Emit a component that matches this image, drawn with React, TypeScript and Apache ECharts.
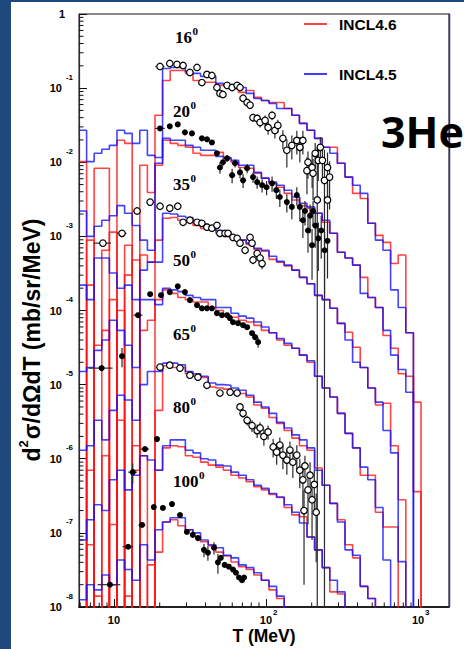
import React, { useEffect, useRef } from 'react';
import * as echarts from 'echarts';

// Bin edges of the model histograms (MeV), 20 bins per decade
const EDGES = [5.89, 6.61, 7.41, 8.32, 9.33, 10.47, 11.75, 13.18, 14.79, 16.6, 18.62, 20.89, 23.44, 26.3, 29.51, 33.11, 37.15, 41.69, 46.77, 52.48, 58.88, 66.07, 74.13, 83.18, 93.33, 104.7, 117.5, 131.8, 147.9, 166, 186.2, 208.9, 234.4, 263, 295.1, 331.1, 371.5, 416.9, 467.7, 524.8, 588.8, 660.7, 741.3, 831.8, 933.3, 1047, 1175];

// INCL4.6 (red) and INCL4.5 (blue) d2sigma/dOmega dT per bin, already multiplied by the angle's decade factor; 0 = empty bin
const INCL46_16 = [0.0102, 0, 0.0083, 0.0083, 0, 0.0198, 0.018, 0, 0.0091, 0.0039, 0.043, 0.127, 0.173, 0.173, 0.158, 0.127, 0.12, 0.12, 0.109, 0.109, 0.1, 0.0875, 0.093, 0.075, 0.068, 0.064, 0.064, 0.053, 0.043, 0.0335, 0.027, 0.021, 0.0159, 0.0159, 0.0097, 0.0063, 0.0038, 0.00325, 0.0015, 0.00103, 8.3e-4, 4.3e-4, 5.6e-4, 5.0e-5, 3.6e-7];
const INCL45_16 = [0.027, 0.0102, 0.0132, 0.015, 0.0169, 0.027, 0.0245, 0.018, 0.027, 0.0124, 0.0116, 0.184, 0.19, 0.19, 0.168, 0.158, 0.144, 0.144, 0.116, 0.109, 0.109, 0.102, 0.085, 0.0726, 0.068, 0.062, 0.053, 0.053, 0.043, 0.0335, 0.027, 0.021, 0.0159, 0.0132, 0.0097, 0.0063, 0.0049, 0.0038, 0.0015, 8.9e-4, 6.5e-4, 1.9e-4, 1.1e-4, 5.0e-5];
const INCL46_20 = [0, 8.9e-4, 0, 6.5e-4, 0.00114, 0, 7.6e-4, 0, 5.6e-4, 4.5e-4, 0.0091, 0.0198, 0.018, 0.0169, 0.0159, 0.0132, 0.0124, 0.0124, 0.0136, 0.0113, 0.01, 0.0085, 0.0083, 0.0071, 0.0061, 0.0052, 0.0046, 0.0038, 0.0031, 0.0026, 0.0024, 0.00205, 0.00155, 0.0011, 6.1e-4, 5.1e-4, 4.1e-4, 2.8e-4, 1.5e-4, 1.1e-4, 4.6e-5, 3.1e-5, 1.4e-5, 1.3e-5, 5.8e-6];
const INCL45_20 = [0.0022, 0.001, 0.00137, 0.00165, 0.0019, 0.0026, 0.00205, 0.0014, 8.9e-4, 6.5e-4, 0.0097, 0.021, 0.0198, 0.0198, 0.0169, 0.0159, 0.0145, 0.0145, 0.012, 0.0116, 0.0106, 0.0091, 0.0091, 0.0073, 0.0061, 0.0054, 0.0049, 0.0042, 0.0034, 0.0028, 0.0025, 0.00205, 0.00165, 0.0011, 6.1e-4, 5.1e-4, 4.1e-4, 1.7e-4, 1.5e-4, 1.1e-4, 5.4e-5, 2.5e-5, 1.6e-5, 7.9e-6];
const INCL46_35 = [0, 2.2e-4, 0, 0, 1.4e-4, 0, 3.0e-4, 4.8e-4, 0, 0, 8.9e-4, 0.00176, 0.0018, 0.00165, 0.00155, 0.0014, 0.00128, 0.00124, 0.0011, 0.001, 9.4e-4, 8.9e-4, 7.8e-4, 6.7e-4, 6.3e-4, 4.9e-4, 4.5e-4, 4.0e-4, 3.5e-4, 2.8e-4, 2.3e-4, 1.6e-4, 1.4e-4, 1.07e-4, 6.7e-5, 5.1e-5, 3.2e-5, 1.7e-5, 9.0e-6, 5.3e-6, 5.6e-6, 1.5e-6, 2.8e-7];
const INCL45_35 = [2.2e-4, 1.4e-4, 5.1e-4, 5.1e-4, 3.2e-4, 2.0e-4, 2.2e-4, 1.4e-4, 3.5e-4, 4.5e-4, 4.5e-4, 0.00205, 0.002, 0.00187, 0.0018, 0.00165, 0.00146, 0.00137, 0.0012, 0.00114, 0.001, 8.9e-4, 8.1e-4, 6.9e-4, 6.5e-4, 5.4e-4, 4.6e-4, 4.1e-4, 3.5e-4, 2.8e-4, 2.3e-4, 1.6e-4, 1.4e-4, 1.07e-4, 6.7e-5, 4.0e-5, 2.0e-5, 1.7e-5, 9.0e-6, 5.8e-6, 2.4e-6, 1.2e-6, 4.1e-8];
const INCL46_50 = [0, 0, 3.4e-5, 5.4e-5, 0, 1.0e-4, 0, 0, 5.4e-5, 7.4e-5, 1.4e-4, 1.9e-4, 1.7e-4, 1.5e-4, 1.4e-4, 1.3e-4, 1.3e-4, 1.1e-4, 1.0e-4, 8.6e-5, 8.1e-5, 7.4e-5, 7.0e-5, 6.3e-5, 5.4e-5, 5.0e-5, 4.0e-5, 3.4e-5, 3.1e-5, 2.5e-5, 2.0e-5, 1.3e-5, 9.0e-6, 6.8e-6, 4.1e-6, 2.2e-6, 1.4e-6, 6.0e-7, 6.0e-7, 1.9e-7, 1.2e-7, 1.2e-7];
const INCL45_50 = [1.5e-5, 1.7e-5, 2.9e-5, 4.0e-5, 7.4e-5, 5.4e-5, 3.4e-5, 1.7e-5, 1.4e-4, 1.4e-4, 1.2e-4, 2.0e-4, 1.9e-4, 1.8e-4, 1.6e-4, 1.5e-4, 1.4e-4, 1.4e-4, 1.1e-4, 1.1e-4, 9.2e-5, 8.4e-5, 7.9e-5, 7.0e-5, 6.0e-5, 5.0e-5, 4.2e-5, 3.6e-5, 3.1e-5, 2.5e-5, 2.1e-5, 1.3e-5, 9.0e-6, 6.8e-6, 4.1e-6, 2.2e-6, 1.4e-6, 7.7e-7, 5.2e-7, 2.2e-7, 4.3e-8];
const INCL46_65 = [0, 7.0e-7, 0, 1.1e-6, 0, 3.3e-6, 0, 1.5e-6, 0, 0, 4.5e-6, 1.8e-5, 1.7e-5, 1.7e-5, 1.4e-5, 1.3e-5, 1.25e-5, 9.3e-6, 9.0e-6, 8.7e-6, 7.9e-6, 7.6e-6, 6.8e-6, 5.3e-6, 4.8e-6, 3.6e-6, 3.0e-6, 2.4e-6, 1.9e-6, 1.5e-6, 1.3e-6, 7.5e-7, 4.4e-7, 2.5e-7, 1.5e-7, 6.9e-8, 4.6e-8, 1.9e-8, 1.3e-8];
const INCL45_65 = [1.3e-6, 1.5e-6, 3.3e-6, 1.8e-6, 4.5e-6, 7.2e-6, 6.2e-6, 3.3e-6, 1.0e-5, 1.5e-5, 1.5e-5, 1.95e-5, 1.95e-5, 1.85e-5, 1.5e-5, 1.4e-5, 1.3e-5, 1.05e-5, 1.0e-5, 9.8e-6, 9.0e-6, 8.4e-6, 7.2e-6, 5.8e-6, 5.0e-6, 4.1e-6, 3.1e-6, 2.6e-6, 2.1e-6, 1.8e-6, 1.4e-6, 7.0e-7, 4.4e-7, 2.5e-7, 1.4e-7, 5.9e-8, 5.0e-8, 1.9e-8, 1.3e-8];
const INCL46_80 = [0, 6.9e-8, 0, 0, 1.3e-7, 0, 0, 7.0e-7, 1.1e-6, 0, 7.0e-7, 1.4e-6, 1.5e-6, 1.45e-6, 1.1e-6, 1.05e-6, 9.0e-7, 8.2e-7, 7.7e-7, 7.0e-7, 6.0e-7, 5.5e-7, 4.9e-7, 4.2e-7, 3.8e-7, 3.3e-7, 3.0e-7, 2.2e-7, 1.75e-7, 1.65e-7, 8.8e-8, 5.9e-8, 3.4e-8, 1.6e-8, 1.5e-8];
const INCL45_80 = [8.0e-8, 1.5e-7, 2.4e-7, 2.0e-7, 5.2e-7, 7.0e-7, 3.8e-7, 6.0e-7, 1.1e-6, 9.6e-7, 7.0e-7, 1.5e-6, 1.8e-6, 1.8e-6, 1.3e-6, 1.2e-6, 1.0e-6, 9.6e-7, 8.2e-7, 8.0e-7, 6.6e-7, 6.0e-7, 5.2e-7, 4.4e-7, 4.0e-7, 3.4e-7, 3.05e-7, 2.4e-7, 1.9e-7, 1.36e-7, 8.8e-8, 5.9e-8, 3.4e-8, 2.3e-8, 1.6e-8];
const INCL46_100 = [0, 0, 1.4e-8, 0, 0, 0, 1.4e-8, 0, 0, 3.7e-8, 5.5e-8, 1.4e-7, 1.5e-7, 1.25e-7, 1.1e-7, 9.0e-8, 7.6e-8, 6.7e-8, 5.5e-8, 4.9e-8, 4.05e-8, 3.5e-8, 3.2e-8, 2.7e-8, 2.3e-8, 1.7e-8, 1.3e-8];
const INCL45_100 = [1.25e-8, 2.0e-8, 1.7e-8, 2.7e-8, 2.0e-8, 4.3e-8, 3.2e-8, 2.3e-8, 6.9e-8, 4.3e-8, 1.1e-7, 1.4e-7, 1.6e-7, 1.6e-7, 1.1e-7, 1.0e-7, 8.0e-8, 6.9e-8, 6.3e-8, 5.0e-8, 4.6e-8, 3.7e-8, 3.4e-8, 2.9e-8, 2.3e-8, 1.9e-8, 1.4e-8];

// Measured points: [T (MeV), value, value error, T error]
const EXP_16 = [[20.1, 0.196, 0, 1.4], [23.3, 0.215, 0, 0], [26.0, 0.209, 0, 0], [28.5, 0.202, 0, 0], [31.6, 0.163, 0, 0], [35.2, 0.19, 0, 0], [37.9, 0.119, 0.008, 0], [40.9, 0.153, 0, 0], [44.1, 0.148, 0, 0], [47.6, 0.102, 0.006, 0], [49.8, 0.085, 0.006, 0], [52.1, 0.082, 0.006, 0], [55.5, 0.109, 0, 0], [59.9, 0.102, 0, 0], [64.6, 0.109, 0, 0], [67.5, 0.102, 0, 0], [70.7, 0.073, 0.006, 0], [75.2, 0.064, 0.006, 0], [78.6, 0.059, 0.006, 0], [82.2, 0.040, 0.005, 0], [87.5, 0.039, 0.005, 0], [91.5, 0.0345, 0.005, 0], [98.7, 0.0367, 0.006, 0], [103.3, 0.0295, 0.006, 0], [109.7, 0.0429, 0.006, 0], [114.5, 0.0269, 0.006, 0], [119.8, 0.0314, 0.006, 0], [129.2, 0.021, 0.006, 0], [137.2, 0.0145, 0.006, 0], [148, 0.0169, 0.006, 0], [159.6, 0.0197, 0.007, 0], [167.1, 0.0159, 0.006, 0], [174.9, 0.0197, 0.007, 0], [186.1, 0.0077, 0.004, 0], [189, 0.01, 0.004, 0], [201.2, 0.0085, 0.004, 0], [204, 0.0071, 0.004, 0], [210.8, 0.0132, 0.005, 0], [217.5, 0.0031, 0.013, 0], [220.9, 0.0106, 0.005, 0], [227.9, 0.0159, 0.006, 0], [235.2, 0.0106, 0.005, 0], [242.6, 0.0057, 0.009, 0], [254.1, 0.0085, 0.005, 0], [254.1, 0.0031, 0.002, 0], [262.2, 0.0063, 0.004, 0]];
const EXP_20 = [[20.1, 0.0286, 0, 1.5], [23.3, 0.0305, 0, 0], [26.3, 0.0324, 0, 0], [29.3, 0.0253, 0, 0], [32.6, 0.0245, 0, 0], [37.9, 0.021, 0, 0], [40.9, 0.0204, 0, 0], [44.1, 0.0185, 0, 0], [47.6, 0.0132, 0.001, 0], [49.8, 0.0085, 0.0015, 0], [52.1, 0.01, 0.0012, 0], [55.5, 0.0113, 0.0012, 0], [59.9, 0.0067, 0.0015, 0], [62.6, 0.0097, 0.0012, 0], [67.5, 0.0073, 0.0012, 0], [70.7, 0.0057, 0.0012, 0], [75.2, 0.0083, 0.0012, 0], [82.2, 0.0063, 0.001, 0], [87.5, 0.0054, 0.001, 0], [94.3, 0.0049, 0.001, 0], [101, 0.0046, 0.001, 0], [109.7, 0.0052, 0.0012, 0], [117, 0.0042, 0.001, 0], [123.4, 0.0034, 0.0009, 0], [137.2, 0.0029, 0.0008, 0], [148, 0.0025, 0.0008, 0], [159.6, 0.0036, 0.001, 0], [167, 0.0025, 0.0009, 0], [175, 0.00165, 0.0007, 0], [180.5, 0.0022, 0.0008, 0], [189, 0.0012, 0.0006, 0], [195, 0.0019, 0.0008, 0], [201, 7.6e-4, 0.0005, 0], [204, 0.0022, 0.0008, 0], [211, 0.0014, 0.0007, 0], [221, 9.4e-4, 0.0006, 0], [231, 0.0012, 0.0007, 0], [243, 6.5e-4, 0.0005, 0], [254, 8.7e-4, 0.0006, 0]];
const EXP_35 = [[8.46, 8.1e-4, 0, 1.1], [11.3, 0.0011, 0, 0.8], [14.2, 0.0022, 0, 0.9], [17.3, 0.0029, 0, 0], [20.1, 0.00255, 0, 0], [23.3, 0.0024, 0, 0], [26.3, 0.00255, 0, 0], [28.5, 0.00155, 0, 0], [31.6, 0.00165, 0, 0], [35.2, 0.00155, 0, 0], [37.9, 0.0015, 0, 0], [40.9, 0.00133, 0, 0], [44.1, 0.00129, 0, 0], [47.6, 0.00141, 0, 0], [49.8, 0.0011, 0, 0], [53.8, 0.0011, 0, 0], [56.3, 0.0011, 0, 0], [60.7, 9.7e-4, 0, 0], [64.6, 9.4e-4, 0, 0], [67.5, 8.1e-4, 0, 0], [72.9, 6.5e-4, 6e-5, 0], [78.6, 9.7e-4, 0, 0], [81.0, 8.1e-4, 0, 0], [82.2, 4.8e-4, 6e-5, 0], [87.5, 5.9e-4, 7e-5, 0], [91.5, 5.1e-4, 7e-5, 0], [94.3, 4.3e-4, 7e-5, 0]];
const EXP_50 = [[8.3, 1.67e-5, 0, 1.5], [11.3, 2.42e-5, 7e-6, 0], [14.4, 8.65e-5, 0, 1.0], [17.3, 1.66e-4, 0, 0], [20.4, 1.61e-4, 0, 0], [23.3, 1.77e-4, 0, 0], [26.3, 2.12e-4, 0, 0], [29.3, 1.77e-4, 0, 0], [31.6, 1.38e-4, 0, 0], [35.2, 1.18e-4, 0, 0], [37.9, 1.07e-4, 0, 0], [40.9, 1.07e-4, 0, 0], [44.1, 1.07e-4, 0, 0], [47.6, 9.2e-5, 0, 0], [51.4, 8.65e-5, 0, 0], [55.5, 8.65e-5, 0, 0], [57.9, 7.9e-5, 0, 0], [60.7, 6.95e-5, 0, 0], [65.5, 6.74e-5, 0, 0], [70.7, 6.34e-5, 0, 0], [75.2, 5.96e-5, 0, 0], [81.0, 4.94e-5, 0, 0], [84.8, 4.37e-5, 4e-6, 0], [88.8, 3.74e-5, 6e-6, 0]];
const EXP_65 = [[20.1, 1.72e-5, 0, 1.2], [23.3, 1.83e-5, 0, 0], [27.2, 1.67e-5, 0, 0], [31.6, 1.34e-5, 0, 0], [35.7, 1.26e-5, 0, 0], [40.9, 9.8e-6, 0, 0], [49.8, 7.7e-6, 0, 0], [58.1, 7.9e-6, 0, 0], [64.6, 7.7e-6, 0, 0], [67.5, 5.0e-6, 6e-7, 0], [70.7, 4.1e-6, 5e-7, 0], [75.2, 3.3e-6, 5e-7, 0], [81.0, 2.8e-6, 5e-7, 0], [87.5, 2.4e-6, 5e-7, 0], [91.5, 2.6e-6, 5e-7, 0], [96.9, 2.0e-6, 5e-7, 0], [103.3, 2.3e-6, 5e-7, 0], [111.5, 1.44e-6, 4e-7, 0], [117.6, 1.23e-6, 4e-7, 0], [123.4, 1.53e-6, 4e-7, 0], [129.2, 1.12e-6, 4e-7, 0], [137.2, 9.6e-7, 3.5e-7, 0], [143.8, 1.31e-6, 4e-7, 0], [150.3, 9.0e-7, 3.5e-7, 0], [159.6, 1.12e-6, 4e-7, 0], [167, 7.0e-7, 3e-7, 0], [175, 5.2e-7, 3e-7, 0], [178, 2.0e-7, 1.8e-7, 0], [180.5, 8.0e-7, 3e-7, 0], [189, 3.8e-7, 2.5e-7, 0], [195, 6.0e-7, 3e-7, 0], [201, 2.8e-7, 2e-7, 0], [208, 4.5e-7, 2.5e-7, 0], [214, 1.9e-7, 1.5e-7, 0]];
const EXP_80 = [[13.3, 6.6e-7, 2e-7, 0.9], [16.0, 1.35e-6, 0, 1.0], [19.2, 1.84e-6, 0, 0]];
const EXP_100 = [[9.41, 2.0e-8, 0, 1.6], [12.4, 6.5e-8, 0, 1.0], [15.3, 1.28e-7, 0, 0.8], [18.3, 2.23e-7, 0, 0], [21.0, 2.17e-7, 0, 0], [24.1, 2.45e-7, 0, 0], [27.2, 1.74e-7, 0, 0], [30.2, 1.03e-7, 0, 0], [33.0, 9.4e-8, 0, 0], [35.7, 8.5e-8, 0, 0], [39.1, 5.9e-8, 1.2e-8, 0], [41.5, 5.4e-8, 1.2e-8, 0], [45.5, 6.3e-8, 1.2e-8, 0], [48.3, 4.0e-8, 1.2e-8, 0], [50.5, 4.6e-8, 0, 0], [53.5, 3.7e-8, 0, 0], [57, 3.5e-8, 0, 0], [60.7, 3.2e-8, 0, 0], [63.5, 2.9e-8, 0, 0], [66.5, 2.5e-8, 0, 0], [69.6, 2.3e-8, 0, 0], [71.8, 2.5e-8, 0, 0]];

const ANGLES = ['16', '20', '35', '50', '65', '80', '100'];
const X_TICK_EXPONENTS = [1, 2, 3];
const Y_TICK_EXPONENTS = [0, -1, -2, -3, -4, -5, -6, -7, -8];
const LEGEND = ['INCL4.6', 'INCL4.5'];

const X_MIN = 5.89, X_MAX = 1600, Y_MIN = 1e-8, Y_MAX = 1;
const FLOOR = 1e-9;
const RED = '#ff1010';
const BLUE = '#1010ff';
const SANS = '"Liberation Sans", Arial, Helvetica, sans-serif';
const SERIF = '"Liberation Serif", "Times New Roman", serif';

// layout of the angle annotations (left x, vertical centre of digits)
const ANGLE_LABEL_X = [175, 173, 173, 173, 173, 173, 173];
const ANGLE_LABEL_Y = [37.5, 111, 184, 260.5, 334, 407.5, 481.5];

function stepPoints(vals: number[]) {
  const pts: number[][] = [];
  for (let i = 0; i < EDGES.length - 1; i++) {
    const v = vals[i] > 0 ? vals[i] : FLOOR;
    pts.push([EDGES[i], v], [EDGES[i + 1], v]);
  }
  return pts;
}

function histSeries(name: string, vals: number[], color: string) {
  return {
    type: 'line', name, data: stepPoints(vals), symbol: 'none', showSymbol: false,
    lineStyle: { color, width: 1.6, opacity: 0.78 }, itemStyle: { color },
    clip: true, silent: true, z: 2,
  };
}

function errorSeries(data: number[][]) {
  return {
    type: 'custom', data, encode: { x: 0, y: 1 }, silent: true, z: 3, clip: true,
    renderItem: (_p: any, api: any) => {
      const t = api.value(0), v = api.value(1), dv = api.value(2), dt = api.value(3);
      const children: any[] = [];
      const st = { stroke: '#2a2a2a', lineWidth: 1.2 };
      if (dv > 0) {
        const lo = Math.max(v - dv, Y_MIN), hi = Math.min(v + dv, Y_MAX);
        const a = api.coord([t, lo]), b = api.coord([t, hi]);
        children.push({ type: 'line', shape: { x1: a[0], y1: a[1], x2: b[0], y2: b[1] }, style: st });
      }
      if (dt > 0) {
        const a = api.coord([t - dt, v]), b = api.coord([t + dt, v]);
        children.push({ type: 'line', shape: { x1: a[0], y1: a[1], x2: b[0], y2: b[1] }, style: st });
      }
      return { type: 'group', children };
    },
  };
}

function pointSeries(data: number[][], open: boolean) {
  return {
    type: 'scatter', data: data.map((d) => [d[0], d[1]]), symbol: 'circle',
    symbolSize: open ? 6.5 : 6, silent: true, z: 4,
    itemStyle: open ? { color: '#fff', borderColor: '#000', borderWidth: 1.2, opacity: 1 } : { color: '#000', opacity: 1 },
  };
}

function tickSeries(values: number[], axis: 'x' | 'y', len: number) {
  return {
    type: 'custom', silent: true, z: 5,
    data: values.map((v) => (axis === 'x' ? [v, Y_MIN] : [X_MIN, v])),
    encode: { x: 0, y: 1 },
    renderItem: (_p: any, api: any) => {
      const p = api.coord([api.value(0), api.value(1)]);
      const shape = axis === 'x'
        ? { x1: p[0], y1: p[1], x2: p[0], y2: p[1] - len }
        : { x1: p[0], y1: p[1], x2: p[0] + len, y2: p[1] };
      return { type: 'line', shape, style: { stroke: '#111', lineWidth: 1 } };
    },
  };
}

function minorValues(lo: number, hi: number, from: number, to: number) {
  const out: number[] = [];
  for (let e = from; e <= to; e++) {
    for (let m = 2; m <= 9; m++) {
      const v = m * Math.pow(10, e);
      if (v > lo && v < hi) out.push(v);
    }
  }
  return out;
}

function decadeOf(v: number, allowed: number[]) {
  if (!(v > 0)) return null;
  const l = Math.log10(v);
  const e = Math.round(l);
  if (Math.abs(l - e) > 1e-6 || allowed.indexOf(e) < 0) return null;
  return e;
}

function text(t: string, x: number, y: number, font: string, extra: any = {}) {
  return {
    type: 'text', x, y, silent: true, z: 10,
    style: { text: t, font, fill: '#000', align: 'left', verticalAlign: 'middle', textAlign: 'left', textVerticalAlign: 'middle', ...extra },
  };
}

function buildOption() {
  const models = [
    [INCL46_16, INCL45_16], [INCL46_20, INCL45_20], [INCL46_35, INCL45_35], [INCL46_50, INCL45_50],
    [INCL46_65, INCL45_65], [INCL46_80, INCL45_80], [INCL46_100, INCL45_100],
  ];
  const exps: [number[][], boolean][] = [
    [EXP_16, true], [EXP_20, false], [EXP_35, true], [EXP_50, false], [EXP_65, true], [EXP_80, false], [EXP_100, false],
  ];

  const series: any[] = [];
  models.forEach((m, i) => series.push(histSeries(LEGEND[0] + ' ' + ANGLES[i], m[0], RED)));
  models.forEach((m, i) => series.push(histSeries(LEGEND[1] + ' ' + ANGLES[i], m[1], BLUE)));
  exps.forEach(([d]) => series.push(errorSeries(d)));
  exps.forEach(([d, open]) => series.push(pointSeries(d, open)));
  series.push(tickSeries(minorValues(X_MIN, X_MAX, 0, 3), 'x', 4.5));
  series.push(tickSeries(minorValues(Y_MIN, Y_MAX, -8, -1), 'y', 4.5));

  const graphic: any[] = [
    { type: 'rect', z: -100, silent: true, shape: { x: 11, y: 2, width: 453, height: 647 }, style: { fill: '#ffffff' } },
    { type: 'line', z: 9, silent: true, shape: { x1: 449.5, y1: 13.5, x2: 449.5, y2: 607 }, style: { stroke: '#3a2f8a', lineWidth: 1.5 } },
    // legend
    { type: 'line', z: 10, silent: true, shape: { x1: 304, y1: 24, x2: 327, y2: 24 }, style: { stroke: RED, lineWidth: 1.6 } },
    text(LEGEND[0], 339, 24.5, `bold 15.5px ${SANS}`),
    { type: 'line', z: 10, silent: true, shape: { x1: 304, y1: 74, x2: 327, y2: 74 }, style: { stroke: BLUE, lineWidth: 1.6 } },
    text(LEGEND[1], 339, 74.5, `bold 15.5px ${SANS}`),
    // particle
    text('3He', 381, 131, 'bold 43px "Open Sans", Lato, sans-serif'),
    // axis titles
    text('T (MeV)', 264, 636, `bold 17.5px ${SANS}`, { align: 'center', textAlign: 'center' }),
    {
      type: 'text', x: 30, y: 340, rotation: Math.PI / 2, silent: true, z: 10,
      style: {
        text: '{a|d}{s|2}{a|σ/dΩdT (mb/sr/MeV)}',
        align: 'center', verticalAlign: 'middle', textAlign: 'center', textVerticalAlign: 'middle',
        rich: {
          a: { fontSize: 23, fontWeight: 'bold', fontFamily: SANS, fill: '#000', color: '#000', lineHeight: 24, padding: [3, 0, 0, 0] },
          s: { fontSize: 13, fontWeight: 'bold', fontFamily: SANS, fill: '#000', color: '#000', lineHeight: 14, padding: [0, 1, 13, 0] },
        },
      },
    },
  ];
  ANGLES.forEach((a, i) => {
    const x = ANGLE_LABEL_X[i], y = ANGLE_LABEL_Y[i];
    graphic.push(text(a, x, y, `bold 17px ${SERIF}`));
    graphic.push(text('0', x + a.length * 8.5 + 0.5, y - 6.5, `bold 11px ${SERIF}`));
  });

  return {
    animation: false,
    backgroundColor: '#1f497d',
    grid: { left: 79, top: 14, width: 370, height: 593, show: true, borderColor: '#111', borderWidth: 1, backgroundColor: 'transparent' },
    xAxis: {
      type: 'log', logBase: 10, min: X_MIN, max: X_MAX,
      axisLine: { show: true, onZero: false, lineStyle: { color: '#222', width: 2 } },
      axisTick: { show: true, inside: true, length: 8, lineStyle: { color: '#111', width: 1 } },
      splitLine: { show: false }, minorTick: { show: false },
      axisLabel: {
        margin: 4,
        formatter: (v: number) => {
          const e = decadeOf(v, X_TICK_EXPONENTS);
          if (e === null) return '';
          return e === 1 ? '{t|10}' : `{b|10}{s|${e}}`;
        },
        rich: {
          t: { fontSize: 11, fontWeight: 'bold', fontFamily: SANS, color: '#000', lineHeight: 11, padding: [6, 0, 0, 0] },
          b: { fontSize: 11, fontWeight: 'bold', fontFamily: SANS, color: '#000', lineHeight: 11, padding: [6, 0, 0, 5.5] },
          s: { fontSize: 8, fontWeight: 'bold', fontFamily: SANS, color: '#000', lineHeight: 8, padding: [0, 0, 9, 1] },
        },
      },
    },
    yAxis: {
      type: 'log', logBase: 10, min: Y_MIN, max: Y_MAX,
      axisLine: { show: true, onZero: false, lineStyle: { color: '#2e2860', width: 1.2 } },
      axisTick: { show: true, inside: true, length: 8, lineStyle: { color: '#111', width: 1 } },
      splitLine: { show: false }, minorTick: { show: false },
      axisLabel: {
        margin: 6,
        formatter: (v: number) => {
          const e = decadeOf(v, Y_TICK_EXPONENTS);
          if (e === null) return '';
          return e === 0 ? '{one|1}' : `{b|10}{s|${e}}`;
        },
        rich: {
          one: { fontSize: 11, fontWeight: 'bold', fontFamily: SANS, color: '#000', lineHeight: 11, padding: [0, 8, 0, 0] },
          b: { fontSize: 11, fontWeight: 'bold', fontFamily: SANS, color: '#000', lineHeight: 11, padding: [9.5, 0, 9.5, 0] },
          s: { fontSize: 8, fontWeight: 'bold', fontFamily: SANS, color: '#000', lineHeight: 8, padding: [0, 0, 22, 4] },
        },
      },
    },
    graphic: { elements: graphic },
    series,
  };
}

export default function App() {
  const ref = useRef<HTMLDivElement>(null);
  useEffect(() => {
    if (!ref.current) return;
    const chart = echarts.init(ref.current, undefined, { renderer: 'svg' });
    chart.setOption(buildOption() as any);
    return () => chart.dispose();
  }, []);
  return <div ref={ref} style={{ position: 'fixed', left: 0, top: 0, width: 464, height: 649 }} />;
}
